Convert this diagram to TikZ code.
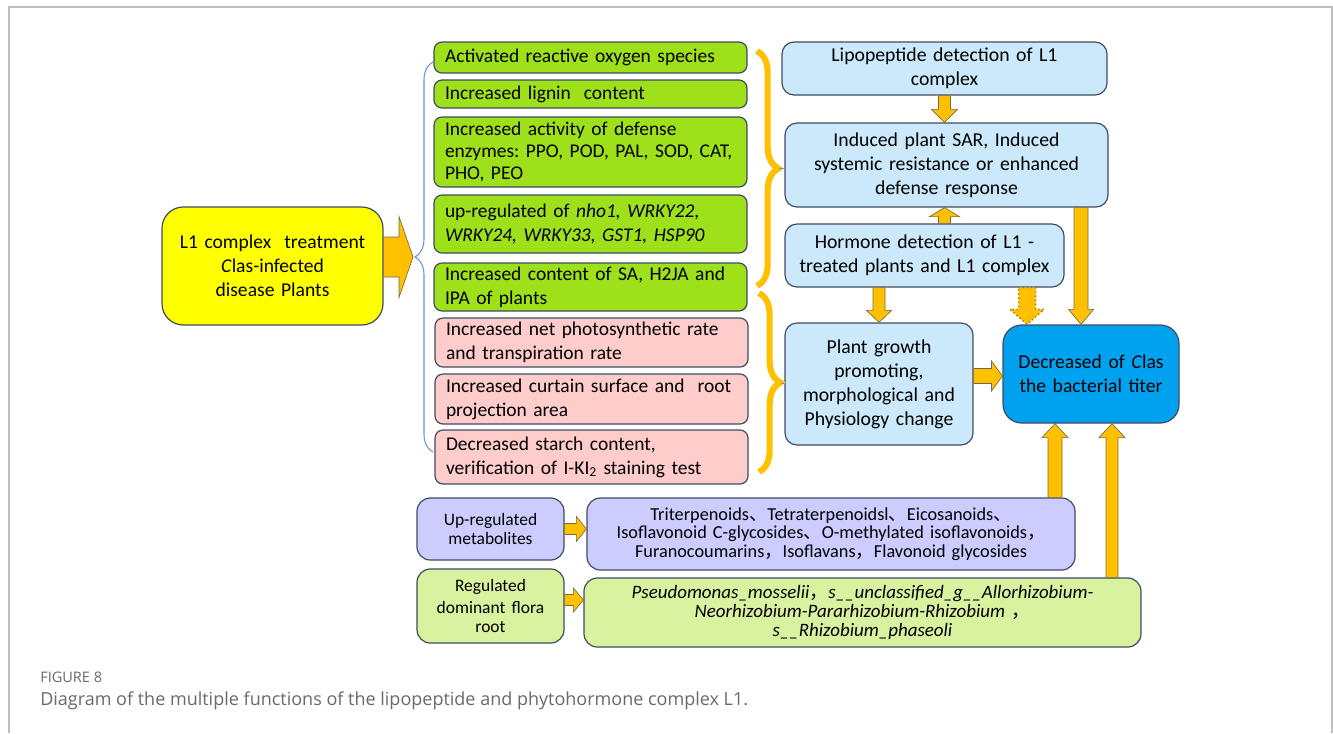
\documentclass[tikz,border=0pt]{standalone}
\usepackage{fontspec}
\setmainfont{Carlito}
\newfontfamily\cjk{Noto Sans CJK SC}
\newfontfamily\capfont{Open Sans}
\usetikzlibrary{calc,decorations.pathreplacing}
\frenchspacing
\definecolor{greenc}{RGB}{158,224,26}
\definecolor{pinkc}{RGB}{255,204,204}
\definecolor{lbluec}{RGB}{204,233,251}
\definecolor{ebluec}{RGB}{0,162,240}
\definecolor{purpc}{RGB}{204,204,255}
\definecolor{florac}{RGB}{216,242,160}
\definecolor{yellowc}{RGB}{255,255,0}
\definecolor{orangec}{RGB}{255,192,0}
\definecolor{bordc}{RGB}{62,76,98}
\definecolor{arredge}{RGB}{120,105,70}
\definecolor{dotc}{RGB}{170,120,20}
\definecolor{bracec}{RGB}{100,150,215}
\definecolor{framec}{RGB}{190,190,190}
\definecolor{capc}{RGB}{105,105,105}
% name, style, x1, y1, x2, y2, pad, text  (pixel units)
\newcommand\mkbox[8]{%
  \pgfmathsetmacro\bxw{(#5-#3)*0.75}%
  \pgfmathsetmacro\bxh{(#6-#4)*0.75}%
  \pgfmathsetmacro\bxt{(#5-#3-2*#7)*0.75}%
  \node[#2,minimum width=\bxw pt,minimum height=\bxh pt,text width=\bxt pt] (#1) at ({(#3+#5)/2},{(#4+#6)/2}) {#8};}
% block arrows: style, from, to, half shaft, half head, head length (px)
\newcommand\arrD[6]{\path[#1] let \p1=(#2),\p2=(#3) in
  (\x1-#4*0.75pt,\y1) -- (\x1+#4*0.75pt,\y1) -- (\x1+#4*0.75pt,\y2+#6*0.75pt) -- (\x1+#5*0.75pt,\y2+#6*0.75pt)
  -- (\x1,\y2) -- (\x1-#5*0.75pt,\y2+#6*0.75pt) -- (\x1-#4*0.75pt,\y2+#6*0.75pt) -- cycle;}
\newcommand\arrU[6]{\path[#1] let \p1=(#2),\p2=(#3) in
  (\x1-#4*0.75pt,\y1) -- (\x1+#4*0.75pt,\y1) -- (\x1+#4*0.75pt,\y2-#6*0.75pt) -- (\x1+#5*0.75pt,\y2-#6*0.75pt)
  -- (\x1,\y2) -- (\x1-#5*0.75pt,\y2-#6*0.75pt) -- (\x1-#4*0.75pt,\y2-#6*0.75pt) -- cycle;}
\newcommand\arrR[6]{\path[#1] let \p1=(#2),\p2=(#3) in
  (\x1,\y1-#4*0.75pt) -- (\x2-#6*0.75pt,\y1-#4*0.75pt) -- (\x2-#6*0.75pt,\y1-#5*0.75pt) -- (\x2,\y1)
  -- (\x2-#6*0.75pt,\y1+#5*0.75pt) -- (\x2-#6*0.75pt,\y1+#4*0.75pt) -- (\x1,\y1+#4*0.75pt) -- cycle;}
\begin{document}
\begin{tikzpicture}[x=0.75pt,y=-0.75pt,
  box/.style={draw=bordc,line width=0.9pt,inner sep=0pt},
  gbox/.style={box,fill=greenc,rounded corners=6pt,align=left,font=\fontsize{14.6}{16.5}\selectfont},
  pbox/.style={box,fill=pinkc,rounded corners=6pt,align=left,font=\fontsize{14.6}{18}\selectfont},
  bbox/.style={box,fill=lbluec,rounded corners=9pt,align=center,font=\fontsize{14.8}{18}\selectfont},
  ebox/.style={box,fill=ebluec,rounded corners=14pt,align=center,font=\fontsize{14.7}{18}\selectfont},
  ybox/.style={box,fill=yellowc,rounded corners=16pt,align=center,font=\fontsize{14.7}{18}\selectfont},
  mbox/.style={box,fill=purpc,rounded corners=10pt,align=center,font=\fontsize{13.7}{14}\selectfont},
  fbox/.style={box,fill=florac,rounded corners=10pt,align=center,font=\fontsize{14.2}{14.2}\selectfont},
  arr/.style={fill=orangec,draw=arredge,line width=0.5pt},
  darr/.style={fill=orangec,draw=dotc,dotted,line width=1.1pt},
  obrace/.style={draw=orangec,line width=4.6pt,decorate,decoration={brace,amplitude=16pt}},
  bbrace/.style={draw=bracec,line width=0.8pt,decorate,decoration={brace,amplitude=13.5pt}},
  thinline/.style={draw=bracec,line width=0.6pt}]
\useasboundingbox (0,0) rectangle (1333,733);
\draw[framec,line width=1.5pt] (9,733) -- (9,7) -- (1332,7) -- (1332,733);

% left treatment box
\mkbox{Y}{ybox}{162}{207}{383}{325}{8}{L1 complex\ \ treatment\\\textit{C}las-infected\\disease Plants}

% green boxes
\mkbox{g1}{gbox}{434}{42}{747}{73}{11}{Activated reactive oxygen species}
\mkbox{g2}{gbox}{434}{80}{747}{108}{11}{Increased lignin\ \ content}
\mkbox{g3}{gbox}{434}{117}{747}{187}{11}{Increased activity of defense\\enzymes: PPO, POD, PAL, SOD, CAT,\\PHO, PEO}
\mkbox{g4}{gbox}{434}{195}{747}{253}{11}{up-regulated of \textit{nho1, WRKY22,}\\[1pt]\textit{WRKY24, WRKY33, GST1, HSP90}}
\mkbox{g5}{gbox}{434}{263}{747}{311}{11}{Increased content of SA, H2JA and\\[1.5pt]IPA of plants}
% pink boxes
\mkbox{p1}{pbox}{435}{318}{748}{367}{11}{Increased net photosynthetic rate\\and transpiration rate}
\mkbox{p2}{pbox}{435}{374}{748}{424}{11}{Increased curtain surface and\ \ root\\projection area}
\mkbox{p3}{pbox}{435}{430}{748}{484}{11}{Decreased starch content,\\verification of I-KI\textsubscript{2} staining test}

% right boxes
\mkbox{A}{bbox}{782}{42}{1107}{95}{6}{Lipopeptide detection of L1\\complex}
\mkbox{B}{bbox}{785}{123}{1108}{207}{6}{Induced plant SAR, Induced\\systemic resistance or enhanced\\defense response}
\mkbox{C}{bbox}{785}{224}{1064}{287}{6}{Hormone detection of L1 -\\treated plants and L1 complex}
\mkbox{D}{bbox}{785}{323}{973}{445}{6}{Plant growth\\promoting,\\morphological and\\Physiology change}
\mkbox{E}{ebox}{1003}{325}{1179}{423}{6}{Decreased of \textit{C}las\\the bacterial titer}

% bottom boxes
\mkbox{M}{mbox}{417}{498}{564}{560}{6}{\fontsize{13.1}{16.5}\selectfont Up-regulated\\metabolites}
\mkbox{ML}{mbox}{587}{498}{1075}{570}{4}{Triterpenoids{\cjk 、}Tetraterpenoidsl{\cjk 、}Eicosanoids{\cjk 、}\\Isoflavonoid C-glycosides{\cjk 、}O-methylated isoflavonoids{\cjk ，}\\Furanocoumarins{\cjk ，}Isoflavans{\cjk ，}Flavonoid glycosides\\[2pt]}
\mkbox{F}{fbox}{417}{569}{564}{643}{6}{\fontsize{13.1}{16}\selectfont Regulated\\dominant flora\\root}
\mkbox{FL}{fbox}{584}{578}{1141}{647}{4}{\itshape Pseudomonas\_mosselii{\cjk ，}s\_\_unclassified\_g\_\_Allorhizobium-\\Neorhizobium-Pararhizobium-Rhizobium {\cjk ，}\\s\_\_Rhizobium\_phaseoli\\[2pt]}

% braces
\coordinate (bt) at (413,257);
\draw[bbrace] (433,452) -- (433,62);
\draw[obrace] (757,51) -- (757,286);
\draw[obrace] (759,293) -- (759,472);
\coordinate (t1) at (779,168);
\coordinate (t2) at (781,383);
\draw[thinline] (t1) -- (B.west |- t1);
\draw[thinline] (t2) -- (D.west |- t2);

% helper coordinates
\coordinate (xBE) at (1081,0);
\coordinate (xCE) at (1027,0);
\coordinate (xME) at (1055,0);
\coordinate (xFE) at (1112,0);
\coordinate (yDE) at (0,376);
\coordinate (yF) at (0,600);

% arrows
\arrR{arr}{Y.east |- bt}{bt}{20}{40.5}{14}
\arrD{arr}{A.south}{B.north}{6}{13}{13}
\arrU{arr}{C.north -| A.south}{B.south}{6}{15}{9}
\arrD{arr}{B.south -| xBE}{E.north -| xBE}{7}{12.5}{15}
\arrD{arr}{C.south -| D.north}{D.north}{6}{12.5}{12}
\arrD{darr}{C.south -| xCE}{E.north -| xCE}{8.5}{17}{15}
\arrR{arr}{D.east |- yDE}{E.west |- yDE}{7.5}{15}{11}
\arrU{arr}{ML.north -| xME}{E.south -| xME}{7}{13}{14}
\arrU{arr}{FL.north -| xFE}{E.south -| xFE}{6}{13}{14}
\arrR{arr}{M.east}{ML.west |- M.east}{5.5}{12.5}{10}
\arrR{arr}{F.east |- yF}{FL.west |- yF}{5.5}{12}{10}

% caption
\node[anchor=west,inner sep=0pt,text=capc,font=\capfont\fontsize{10.9}{12}\selectfont] (figlab) at (40,677) {FIGURE 8};
\node[anchor=west,inner sep=0pt,text=capc,font=\capfont\fontsize{13.5}{15}\selectfont] (cap) at (40,701) {Diagram of the multiple functions of the lipopeptide and phytohormone complex L1.};
\end{tikzpicture}
\end{document}
